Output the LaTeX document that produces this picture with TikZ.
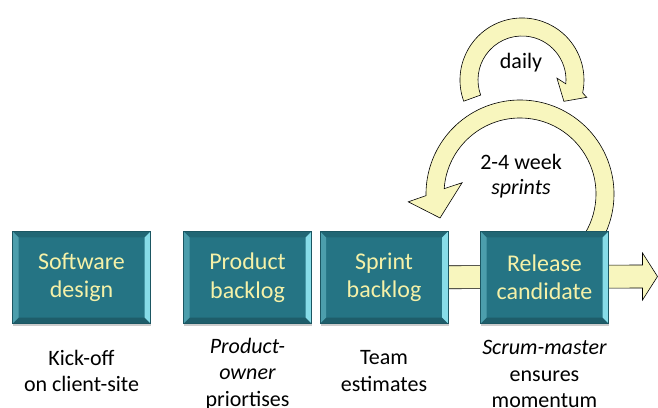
\documentclass[tikz,border=0pt]{standalone}
\usepackage{fontspec}
\setmainfont{Carlito}
\usetikzlibrary{shadows, backgrounds}

\begin{document}
\begin{tikzpicture}[x=1pt, y=1pt, line join=miter]

\definecolor{boxcolor}{RGB}{37, 116, 132}
\definecolor{edgecolor}{RGB}{27, 86, 98}
\definecolor{bevelcolor}{RGB}{135, 220, 232}
\definecolor{labelcolor}{RGB}{245, 241, 168}
\definecolor{arrowcolor}{RGB}{248, 246, 190}

\tikzset{
  stagebox/.style={draw=edgecolor, fill=boxcolor, minimum width=128pt, minimum height=92pt,
    inner sep=0pt, align=center, text=labelcolor, font=\fontsize{24}{28.5}\selectfont,
    drop shadow={shadow xshift=0.5pt, shadow yshift=-2pt, opacity=0.4},
    path picture={
      \coordinate (nw) at (path picture bounding box.north west);
      \coordinate (ne) at (path picture bounding box.north east);
      \coordinate (sw) at (path picture bounding box.south west);
      \coordinate (se) at (path picture bounding box.south east);
      % bevel: top, bottom, left, right
      \fill[boxcolor!88!black] (nw) -- (ne) -- ([shift={(-6,-6)}]ne) -- ([shift={(6,-6)}]nw) -- cycle;
      \fill[boxcolor!80!black] (sw) -- (se) -- ([shift={(-6,6)}]se) -- ([shift={(6,6)}]sw) -- cycle;
      \fill[bevelcolor!40!boxcolor] (nw) -- ([shift={(6,-6)}]nw) -- ([shift={(6,6)}]sw) -- (sw) -- cycle;
      \fill[bevelcolor] (ne) -- ([shift={(-6,-6)}]ne) -- ([shift={(-6,6)}]se) -- (se) -- cycle;
    }},
  note/.style={align=center, font=\fontsize{22}{26.5}\selectfont},
  yellowarrow/.style={draw=black, fill=arrowcolor, line width=0.6pt}
}

\useasboundingbox (0,0) rectangle (658,407);

% centres of the two loops
\coordinate (dailyc) at (522,327);
\coordinate (sprintc) at (520,213);

% daily loop
\draw[yellowarrow] ([shift={(200:62)}]dailyc) arc[start angle=200, end angle=-12, radius=62]
  -- ([shift={(-15:67)}]dailyc) -- ([shift={(-27:47)}]dailyc) -- ([shift={(3:35)}]dailyc)
  -- ([shift={(-5:44)}]dailyc) arc[start angle=-5, end angle=200, radius=44] -- cycle;
\node[note] (daily) at (521,344.5) {daily};

% sprint loop
\draw[yellowarrow] ([shift={(-35:94)}]sprintc) arc[start angle=-35, end angle=181, radius=94]
  -- ([shift={(184:112)}]sprintc) -- ([shift={(196.7:83.5)}]sprintc) -- ([shift={(169:59)}]sprintc)
  -- ([shift={(176:76)}]sprintc) arc[start angle=176, end angle=-35, radius=76] -- cycle;
\node[note, font=\fontsize{22}{24.5}\selectfont] (sprints) at (521,231) {2-4 week\\\textit{sprints}};

% stages
\node[stagebox, minimum width=138pt] (software) at (81.5,129.5) {Software\\design};
\node[stagebox] (product) at (247.5,129.5) {Product\\backlog};
\node[stagebox] (sprint) at (384,129.5) {Sprint\\backlog};
\node[stagebox] (release) at (544.5,129.5) {Release\\candidate};
\coordinate (out) at (657.5,130.5);

% flow arrow, behind the last two stages
\begin{scope}[on background layer]
\draw[yellowarrow] ([yshift=11.5]sprint.center) -- ([shift={(-15,11.5)}]out) -- ([shift={(-15,23.5)}]out)
  -- (out) -- ([shift={(-15,-23.5)}]out) -- ([shift={(-15,-11.5)}]out) -- ([yshift=-11.5]sprint.center) -- cycle;
\end{scope}

% notes under the stages
\node[note] (kickoff) at (81.5,36) {Kick-off\\on client-site};
\node[note] (owner) at (247.5,33) {\textit{Product-}\\\textit{owner}\\priortises};
\node[note] (team) at (384,36) {Team\\estimates};
\node[note] (master) at (544.5,33) {\textit{Scrum-master}\\ensures\\momentum};

\end{tikzpicture}
\end{document}
